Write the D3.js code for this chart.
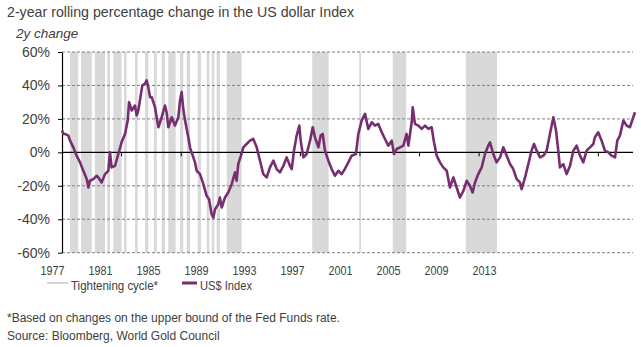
<!DOCTYPE html>
<html>
<head>
<meta charset="utf-8">
<script src="https://cdn.jsdelivr.net/npm/d3@7"></script>
<style>
	body { margin: 0; background: #fff; }
	text { font-family: "Liberation Sans", Arial, sans-serif; fill: #404040; }
</style>
</head>
<body>
<div id="chart"></div>
<script>
//data: decimal year and 2y % change of the US dollar index
var years = [1977.00,1977.10,1977.20,1977.43,1977.54,1977.76,1977.98,1978.21,1978.43,1978.66,1978.77,1978.88,
	1979.10,1979.33,1979.44,1979.66,1979.89,1980.11,1980.22,1980.33,1980.56,1980.78,1981.00,1981.23,1981.41,1981.50,
	1981.68,1981.90,1982.01,1982.12,1982.23,1982.39,1982.57,1982.68,1982.79,1982.91,1983.02,1983.24,1983.47,1983.69,
	1983.91,1984.02,1984.14,1984.36,1984.58,1984.81,1984.92,1985.03,1985.14,1985.26,1985.48,1985.59,1985.70,1985.93,
	1986.04,1986.26,1986.49,1986.71,1986.87,1987.04,1987.16,1987.27,1987.49,1987.60,1987.72,1987.94,1988.16,1988.39,
	1988.61,1988.72,1988.83,1989.01,1989.17,1989.39,1989.62,1989.84,1990.07,1990.29,1990.51,1990.74,1990.96,1991.19,
	1991.41,1991.63,1991.86,1992.08,1992.30,1992.42,1992.57,1992.75,1992.93,1993.02,1993.20,1993.42,1993.65,1993.83,
	1993.98,1994.21,1994.36,1994.50,1994.65,1994.88,1995.10,1995.32,1995.55,1995.77,1995.98,1996.22,1996.44,1996.73,
	1996.89,1997.11,1997.34,1997.56,1997.79,1998.01,1998.23,1998.46,1998.68,1998.90,1999.13,1999.28,1999.46,1999.69,
	1999.91,2000.13,2000.25,2000.47,2000.54,2000.69,2000.92,2001.14,2001.37,2001.59,2001.81,2001.97,2002.15,2002.37,
	2002.59,2002.82,2003.04,2003.27,2003.49,2003.71,2003.94,2004.16,2004.38,2004.56,2004.72,2004.94,2005.17,2005.39,
	2005.61,2005.73,2005.95,2006.17,2006.40,2006.62,2006.85,2007.07,2007.29,2007.52,2007.74,2007.85,2008.08,2008.30,
	2008.52,2008.68,2008.86,2009.08,2009.31,2009.53,2009.75,2009.98,2010.16,2010.31,2010.42,2010.65,2010.87,2011.10,
	2011.32,2011.54,2011.77,2011.99,2012.21,2012.44,2012.66,2012.77,2012.99,2013.22,2013.44,2013.67,2013.89,2014.12,
	2014.27,2014.45,2014.68,2014.90,2015.12,2015.23,2015.46];

var usdChange = [13,11,11,10,7,3,-2,-6,-11,-16,-21,-17,
	-16,-14,-15,-18,-13,-11,0,-9,-8,-1,6,11,19,30,
	25,28,22,25,31,40,41,43,39,33,33,27,15,21,
	28,24,15,21,16,21,31,36,26,19,9,3,0,-6,
	-11,-13,-19,-26,-28,-37,-39,-34,-31,-27,-33,-27,-24,-19,
	-12,-17,-7,-2,3,5,7,8,3,-5,-13,-15,-9,-5,
	-10,-12,-8,-3,-8,-10,1,10,16,7,-3,-1,7,15,
	9,3,10,11,1,-5,-10,-14,-11,-13,-10,-6,-2,-1,
	11,19,23,14,18,16,17,12,8,4,7,-1,2,3,
	4,11,4,18,27,17,16,14,16,14,15,6,-2,-6,
	-9,-11,-21,-15,-21,-27,-23,-17,-20,-24,-18,-13,-9,-1,
	4,6,-1,-6,-3,3,-2,-7,-10,-16,-18,-22,-15,-7,
	1,5,1,-3,-2,1,11,21,13,1,-9,-7,-13,-8,
	1,4,-2,-6,1,3,5,9,12,7,1,0,-2,-3,
	7,10,19,16,15,18,24];

//Fed tightening cycles (start / end, decimal years)
var tightStart = [1977.54,1978.28,1979.21,1980.04,1980.44,1981.16,1981.90,1982.57,1983.17,1983.69,1984.13,
	1984.92,1985.37,1986.11,1986.71,1987.05,1987.38,1988.05,1993.80,1996.95,1999.20,2004.10];
var tightEnd = [1978.09,1979.00,1979.89,1980.22,1981.00,1981.34,1982.08,1982.79,1983.36,1983.91,1984.63,
	1985.14,1985.59,1986.33,1986.89,1987.22,1987.60,1989.06,1994.90,1997.07,2000.10,2006.20];

var yTicks = [-60, -40, -20, 0, 20, 40, 60];
var xLabels = ["1977","1981","1985","1989","1993","1997","2001","2005","2009","2013"];
var tickYears = [1981,1985,1989,1993,1997,2001,2005,2009,2013];

var width = 641, height = 347;
var plot = {left: 62, right: 633, top: 52, bottom: 252.7};

var svg = d3.select("#chart")
	.append("svg")
	.attr("width", width)
	.attr("height", height);

var xscale = d3.scaleLinear()
	.domain([1977, 2015.46])
	.range([plot.left, 635]);

var yscale = d3.scaleLinear()
	.domain([-60, 60])
	.range([plot.bottom, plot.top]);

//tightening bands
svg.append("g").selectAll("rect")
	.data(tightStart)
	.enter()
	.append("rect")
		.attr("x", function(d){ return xscale(d); })
		.attr("width", function(d, i){ return xscale(tightEnd[i]) - xscale(d); })
		.attr("y", plot.top)
		.attr("height", plot.bottom - plot.top)
		.attr("fill", "#d9d9d9");

//dashed grid
svg.append("g").selectAll("line")
	.data(yTicks.filter(function(d){ return d != 0; }))
	.enter()
	.append("line")
		.attr("x1", plot.left)
		.attr("x2", plot.right)
		.attr("y1", function(d){ return yscale(d); })
		.attr("y2", function(d){ return yscale(d); })
		.attr("stroke", "#7f7f7f")
		.attr("stroke-width", 1)
		.attr("stroke-dasharray", "3,2");

//zero line + small year ticks
svg.append("line")
	.attr("x1", plot.left)
	.attr("x2", plot.right)
	.attr("y1", yscale(0))
	.attr("y2", yscale(0))
	.attr("stroke", "#000")
	.attr("stroke-width", 1.2);

svg.append("g").selectAll("line")
	.data(tickYears)
	.enter()
	.append("line")
		.attr("x1", function(d){ return xscale(d); })
		.attr("x2", function(d){ return xscale(d); })
		.attr("y1", yscale(0))
		.attr("y2", yscale(0) + 4)
		.attr("stroke", "#000");

//y axis
var yAxis = d3.axisLeft(yscale)
	.tickValues(yTicks)
	.tickSize(4)
	.tickSizeOuter(0)
	.tickPadding(8)
	.tickFormat(function(d){ return d + "%"; });

var yGroup = svg.append("g")
	.attr("transform", "translate(" + plot.left + ",0)")
	.call(yAxis);
yGroup.select(".domain").attr("stroke", "#000").attr("stroke-width", 1.2);
yGroup.selectAll("text")
	.attr("font-size", 14)
	.attr("font-family", "Liberation Sans, Arial, sans-serif")
	.attr("fill", "#404040");

//x labels (condensed like the original)
var xLabelScale = d3.scalePoint()
	.domain(xLabels)
	.range([52, 484]);

var xGroup = svg.append("g")
	.attr("transform", "translate(0,262.5)")
	.call(d3.axisBottom(xLabelScale).tickSize(0).tickPadding(3));
xGroup.select(".domain").remove();
xGroup.selectAll("text")
	.attr("font-size", 13)
	.attr("font-family", "Liberation Sans, Arial, sans-serif")
	.attr("fill", "#404040")
	.attr("textLength", 24)
	.attr("lengthAdjust", "spacingAndGlyphs");

//the line
var line = d3.line()
	.x(function(d, i){ return xscale(years[i]); })
	.y(function(d){ return yscale(d); });

svg.append("path")
	.datum(usdChange)
	.attr("d", line)
	.attr("fill", "none")
	.attr("stroke", "#772e70")
	.attr("stroke-width", 2.6)
	.attr("stroke-linejoin", "round");

//titles
svg.append("text")
	.attr("x", 7)
	.attr("y", 17)
	.attr("font-size", 14.2)
	.attr("fill", "#333")
	.text("2-year rolling percentage change in the US dollar Index");

svg.append("text")
	.attr("x", 16)
	.attr("y", 38)
	.attr("font-size", 13.5)
	.attr("font-style", "italic")
	.text("2y change");

//legend
svg.append("line")
	.attr("x1", 47).attr("x2", 68)
	.attr("y1", 283).attr("y2", 283)
	.attr("stroke", "#d4d4d4")
	.attr("stroke-width", 2);
svg.append("text")
	.attr("x", 71)
	.attr("y", 289.5)
	.attr("font-size", 13)
	.attr("textLength", 87)
	.attr("lengthAdjust", "spacingAndGlyphs")
	.text("Tightening cycle*");

svg.append("line")
	.attr("x1", 182).attr("x2", 197)
	.attr("y1", 283).attr("y2", 283)
	.attr("stroke", "#772e70")
	.attr("stroke-width", 3);
svg.append("text")
	.attr("x", 200)
	.attr("y", 289.5)
	.attr("font-size", 13)
	.attr("textLength", 52)
	.attr("lengthAdjust", "spacingAndGlyphs")
	.text("US$ Index");

//footnotes
svg.append("text")
	.attr("x", 7)
	.attr("y", 322)
	.attr("font-size", 12)
	.text("*Based on changes on the upper bound of the Fed Funds rate.");

svg.append("text")
	.attr("x", 7)
	.attr("y", 340)
	.attr("font-size", 12)
	.text("Source: Bloomberg, World Gold Council");
</script>
</body>
</html>
